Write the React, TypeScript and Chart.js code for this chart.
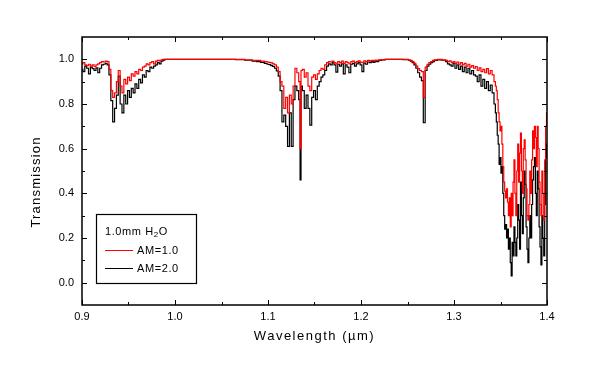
import React, { useEffect, useRef } from "react";
import { Chart, registerables } from "chart.js";

Chart.register(...registerables);

// Wavelength (µm)
const wavelength = [
  0.900, 0.902, 0.904, 0.906, 0.908, 0.910, 0.912, 0.914, 0.916, 0.918,
  0.920, 0.922, 0.924, 0.926, 0.928, 0.930, 0.932, 0.934, 0.936, 0.938,
  0.940, 0.942, 0.944, 0.946, 0.948, 0.950, 0.952, 0.954, 0.956, 0.958,
  0.960, 0.962, 0.964, 0.966, 0.968, 0.970, 0.972, 0.974, 0.976, 0.978,
  0.980, 0.982, 0.984, 0.986, 0.988, 0.990,
  1.000, 1.020, 1.040, 1.060, 1.070, 1.080, 1.086, 1.090, 1.094, 1.098,
  1.100, 1.102, 1.104, 1.106, 1.108, 1.110, 1.112, 1.114, 1.116, 1.118,
  1.120, 1.122, 1.124, 1.126, 1.128, 1.130, 1.132, 1.134, 1.135, 1.136,
  1.138, 1.140, 1.142, 1.144, 1.146, 1.148, 1.150, 1.152, 1.154, 1.156,
  1.158, 1.160, 1.162, 1.164, 1.166, 1.168, 1.170,
  1.172, 1.174, 1.176, 1.178, 1.180, 1.182, 1.184, 1.186, 1.188, 1.190,
  1.192, 1.194, 1.196, 1.198, 1.200, 1.202, 1.204, 1.206, 1.208, 1.210,
  1.212, 1.214, 1.216, 1.218, 1.220, 1.224, 1.228, 1.240, 1.250,
  1.252, 1.254, 1.256, 1.258, 1.260, 1.262, 1.264, 1.266, 1.268, 1.270,
  1.272, 1.274, 1.276, 1.278, 1.280, 1.284, 1.290,
  1.292, 1.294, 1.296, 1.298, 1.300, 1.302, 1.304, 1.306, 1.308, 1.310,
  1.312, 1.314, 1.316, 1.318, 1.320, 1.322, 1.324, 1.326, 1.328, 1.330,
  1.332, 1.334, 1.336, 1.338, 1.340, 1.342, 1.344,
  1.345, 1.346, 1.347, 1.348, 1.349, 1.350, 1.351, 1.352, 1.353, 1.354,
  1.355, 1.356, 1.357, 1.358, 1.359, 1.360, 1.361, 1.362, 1.363, 1.364,
  1.365, 1.366, 1.367, 1.368, 1.369, 1.370, 1.371, 1.372, 1.373, 1.374,
  1.375, 1.376, 1.377, 1.378, 1.379, 1.380, 1.381, 1.382, 1.383, 1.384,
  1.385, 1.386, 1.387, 1.388, 1.389, 1.390, 1.391, 1.392, 1.393, 1.394,
  1.395, 1.396, 1.397, 1.398, 1.399, 1.400,
];

// Transmission, air mass 1.0 (red)
const am10 = [
  0.980, 0.985, 0.975, 0.972, 0.978, 0.970, 0.975, 0.968, 0.975, 0.980,
  0.985, 0.990, 0.988, 0.992, 0.990, 0.955, 0.860, 0.830, 0.850, 0.900,
  0.950, 0.880, 0.850, 0.910, 0.890, 0.920, 0.905, 0.935, 0.925, 0.945,
  0.935, 0.955, 0.950, 0.965, 0.970, 0.980, 0.975, 0.985, 0.990, 0.980,
  0.992, 0.995, 0.993, 0.998, 1.000, 1.000,
  1.000, 1.000, 1.000, 1.000, 1.000, 0.998, 0.996, 0.995, 0.992, 0.990,
  0.988, 0.986, 0.984, 0.980, 0.975, 0.965, 0.945, 0.900, 0.880, 0.780,
  0.830, 0.760, 0.840, 0.800, 0.880, 0.960, 0.940, 0.900, 0.600, 0.950,
  0.955, 0.920, 0.940, 0.880, 0.860, 0.920, 0.930, 0.910, 0.935, 0.950,
  0.960, 0.955, 0.975, 0.985, 0.990, 0.988, 0.992,
  0.985, 0.980, 0.990, 0.985, 0.992, 0.982, 0.990, 0.985, 0.980, 0.990,
  0.992, 0.985, 0.990, 0.993, 0.988, 0.985, 0.993, 0.990, 0.995, 0.993,
  0.996, 0.994, 0.997, 0.995, 0.998, 0.999, 1.000, 1.000, 1.000,
  0.998, 0.995, 0.990, 0.982, 0.970, 0.958, 0.950, 0.945, 0.830, 0.965,
  0.978, 0.985, 0.990, 0.995, 0.998, 1.000, 0.998,
  0.995, 0.990, 0.993, 0.985, 0.990, 0.982, 0.988, 0.978, 0.985, 0.975,
  0.982, 0.970, 0.978, 0.965, 0.972, 0.960, 0.968, 0.950, 0.962, 0.945,
  0.955, 0.940, 0.958, 0.935, 0.950, 0.930, 0.900,
  0.880, 0.860, 0.820, 0.760, 0.720, 0.680, 0.700, 0.620, 0.520, 0.450,
  0.410, 0.380, 0.420, 0.360, 0.300, 0.380, 0.250, 0.400, 0.300, 0.450,
  0.550, 0.400, 0.300, 0.500, 0.620, 0.450, 0.580, 0.670, 0.500, 0.400,
  0.600, 0.640, 0.550, 0.420, 0.300, 0.280, 0.350, 0.500, 0.400, 0.550,
  0.680, 0.600, 0.700, 0.650, 0.520, 0.700, 0.600, 0.450, 0.350, 0.300,
  0.500, 0.400, 0.280, 0.550, 0.700, 0.760,
];

// Transmission, air mass 2.0 (black)
const am20 = [
  0.955, 0.945, 0.970, 0.960, 0.935, 0.965, 0.958, 0.950, 0.962, 0.940,
  0.960, 0.975, 0.978, 0.982, 0.975, 0.930, 0.815, 0.720, 0.780, 0.840,
  0.925, 0.800, 0.760, 0.840, 0.800, 0.860, 0.830, 0.870, 0.850, 0.890,
  0.870, 0.910, 0.895, 0.930, 0.920, 0.950, 0.945, 0.965, 0.960, 0.970,
  0.975, 0.985, 0.980, 0.992, 0.996, 1.000,
  1.000, 1.000, 1.000, 1.000, 0.999, 0.996, 0.992, 0.990, 0.986, 0.982,
  0.978, 0.976, 0.972, 0.968, 0.960, 0.948, 0.925, 0.860, 0.720, 0.750,
  0.700, 0.610, 0.760, 0.610, 0.820, 0.880, 0.860, 0.820, 0.460, 0.880,
  0.860, 0.780, 0.840, 0.780, 0.705, 0.830, 0.860, 0.820, 0.880, 0.900,
  0.920, 0.930, 0.950, 0.970, 0.980, 0.975, 0.985,
  0.975, 0.943, 0.978, 0.970, 0.980, 0.935, 0.975, 0.965, 0.940, 0.978,
  0.982, 0.970, 0.980, 0.985, 0.975, 0.945, 0.983, 0.978, 0.988, 0.985,
  0.990, 0.986, 0.992, 0.990, 0.995, 0.997, 1.000, 1.000, 0.999,
  0.996, 0.992, 0.985, 0.975, 0.960, 0.940, 0.920, 0.905, 0.716, 0.950,
  0.970, 0.978, 0.985, 0.990, 0.995, 0.998, 0.996,
  0.990, 0.980, 0.975, 0.970, 0.982, 0.960, 0.975, 0.955, 0.970, 0.945,
  0.965, 0.940, 0.960, 0.935, 0.950, 0.930, 0.925, 0.900, 0.930, 0.880,
  0.910, 0.870, 0.900, 0.860, 0.885, 0.850, 0.800,
  0.760, 0.720, 0.660, 0.620, 0.530, 0.560, 0.490, 0.520, 0.400, 0.300,
  0.240, 0.260, 0.200, 0.240, 0.150, 0.200, 0.090, 0.030, 0.180, 0.120,
  0.250, 0.180, 0.120, 0.200, 0.350, 0.280, 0.150, 0.450, 0.300, 0.220,
  0.380, 0.500, 0.440, 0.250, 0.150, 0.090, 0.200, 0.300, 0.200, 0.350,
  0.460, 0.520, 0.560, 0.400, 0.300, 0.500, 0.420, 0.250, 0.160, 0.080,
  0.300, 0.200, 0.120, 0.350, 0.560, 0.620,
];

const xTicks = [0.9, 1.0, 1.1, 1.2, 1.3, 1.4];
const xMinorTicks = [0.95, 1.05, 1.15, 1.25, 1.35];
const yTicks = [0.0, 0.2, 0.4, 0.6, 0.8, 1.0];
const yMinorTicks = [0.1, 0.3, 0.5, 0.7, 0.9];

const xTitle = "Wavelength (\u00b5m)";
const yTitle = "Transmission";
const legendTitleParts = ["1.0mm H", "2", "O"];
const seriesLabels = ["AM=1.0", "AM=2.0"];
const seriesColors = ["#ff0000", "#000000"];

const FONT = "'Liberation Sans', Arial, sans-serif";

const decorPlugin = {
  id: "decor",
  afterDatasetsDraw(chart: any) {
    const { ctx, chartArea: a, scales } = chart;
    const xs = scales.x;
    const ys = scales.y;
    ctx.save();
    ctx.strokeStyle = "#000";
    ctx.lineWidth = 1;
    ctx.beginPath();
    const major = 5;
    const minor = 3;
    xTicks.forEach((v) => {
      const p = Math.round(xs.getPixelForValue(v)) + 0.5;
      ctx.moveTo(p, a.bottom);
      ctx.lineTo(p, a.bottom - major);
      ctx.moveTo(p, a.top);
      ctx.lineTo(p, a.top + major);
    });
    xMinorTicks.forEach((v) => {
      const p = Math.round(xs.getPixelForValue(v)) + 0.5;
      ctx.moveTo(p, a.bottom);
      ctx.lineTo(p, a.bottom - minor);
      ctx.moveTo(p, a.top);
      ctx.lineTo(p, a.top + minor);
    });
    yTicks.forEach((v) => {
      const p = Math.round(ys.getPixelForValue(v)) + 0.5;
      ctx.moveTo(a.left, p);
      ctx.lineTo(a.left + major, p);
      ctx.moveTo(a.right, p);
      ctx.lineTo(a.right - major, p);
    });
    yMinorTicks.forEach((v) => {
      const p = Math.round(ys.getPixelForValue(v)) + 0.5;
      ctx.moveTo(a.left, p);
      ctx.lineTo(a.left + minor, p);
      ctx.moveTo(a.right, p);
      ctx.lineTo(a.right - minor, p);
    });
    ctx.stroke();
    ctx.lineWidth = 1.5;
    ctx.strokeRect(a.left, a.top, a.right - a.left, a.bottom - a.top);
    ctx.restore();
  },
  afterDraw(chart: any) {
    const { ctx, chartArea: a } = chart;
    ctx.save();
    ctx.fillStyle = "#000";
    // axis titles
    (ctx as any).letterSpacing = "1.5px";
    ctx.font = `13px ${FONT}`;
    ctx.textAlign = "center";
    ctx.textBaseline = "middle";
    ctx.fillText(xTitle, (a.left + a.right) / 2, 336);
    ctx.save();
    (ctx as any).letterSpacing = "1.2px";
    ctx.translate(36, 182);
    ctx.rotate(-Math.PI / 2);
    ctx.fillText(yTitle, 0, 0);
    ctx.restore();

    // legend box
    const bx = 96.5, by = 214.5, bw = 100, bh = 69;
    ctx.lineWidth = 1.2;
    ctx.strokeStyle = "#000";
    ctx.strokeRect(bx, by, bw, bh);
    (ctx as any).letterSpacing = "0.6px";
    ctx.textAlign = "left";
    ctx.textBaseline = "middle";
    ctx.font = `11px ${FONT}`;
    let tx = 105;
    const ty = 232;
    ctx.fillText(legendTitleParts[0], tx, ty);
    tx += ctx.measureText(legendTitleParts[0]).width;
    ctx.font = `8px ${FONT}`;
    ctx.fillText(legendTitleParts[1], tx, ty + 3);
    tx += ctx.measureText(legendTitleParts[1]).width;
    ctx.font = `11px ${FONT}`;
    ctx.fillText(legendTitleParts[2], tx, ty);

    const rows = [250.5, 268.5];
    seriesLabels.forEach((lab, i) => {
      ctx.strokeStyle = seriesColors[i];
      ctx.lineWidth = 1;
      ctx.beginPath();
      ctx.moveTo(105, rows[i]);
      ctx.lineTo(133, rows[i]);
      ctx.stroke();
      ctx.fillStyle = "#000";
      ctx.fillText(lab, 137, rows[i]);
    });
    ctx.restore();
  },
};

export default function App() {
  const ref = useRef<HTMLCanvasElement>(null);
  useEffect(() => {
    document.body.style.margin = "0";
    const tickFont = { family: FONT, size: 11 };
    const chart = new Chart(ref.current as HTMLCanvasElement, {
      type: "line",
      data: {
        datasets: [
          {
            label: seriesLabels[0],
            data: wavelength.map((w, i) => ({ x: w, y: am10[i] })),
            borderColor: seriesColors[0],
            borderWidth: 1.2,
            pointRadius: 0,
            stepped: "middle",
            fill: false,
          },
          {
            label: seriesLabels[1],
            data: wavelength.map((w, i) => ({ x: w, y: am20[i] })),
            borderColor: seriesColors[1],
            borderWidth: 1.2,
            pointRadius: 0,
            stepped: "middle",
            fill: false,
          },
        ],
      },
      options: {
        animation: false,
        responsive: false,
        events: [],
        layout: { padding: { top: 37, right: 44, left: 0, bottom: 0 } },
        plugins: {
          legend: { display: false },
          tooltip: { enabled: false },
          title: { display: false },
        },
        scales: {
          x: {
            type: "linear",
            min: 0.9,
            max: 1.4,
            afterBuildTicks: (s: any) => {
              s.ticks = xTicks.map((v) => ({ value: v }));
            },
            afterFit: (s: any) => {
              s.height = 77;
            },
            grid: { display: false, drawTicks: false },
            border: { display: false },
            ticks: {
              autoSkip: false,
              maxRotation: 0,
              padding: 5,
              color: "#000",
              font: tickFont,
              callback: (v: any) => Number(v).toFixed(1),
            },
          },
          y: {
            type: "linear",
            min: -0.1,
            max: 1.1,
            afterBuildTicks: (s: any) => {
              s.ticks = yTicks.map((v) => ({ value: v }));
            },
            afterFit: (s: any) => {
              s.width = 82;
            },
            grid: { display: false, drawTicks: false },
            border: { display: false },
            ticks: {
              autoSkip: false,
              padding: 8,
              color: "#000",
              font: tickFont,
              callback: (v: any) => Number(v).toFixed(1),
            },
          },
        },
      },
      plugins: [decorPlugin],
    } as any);
    return () => chart.destroy();
  }, []);
  return (
    <div style={{ width: 591, height: 382 }}>
      <canvas ref={ref} width={591} height={382} style={{ display: "block" }} />
    </div>
  );
}
